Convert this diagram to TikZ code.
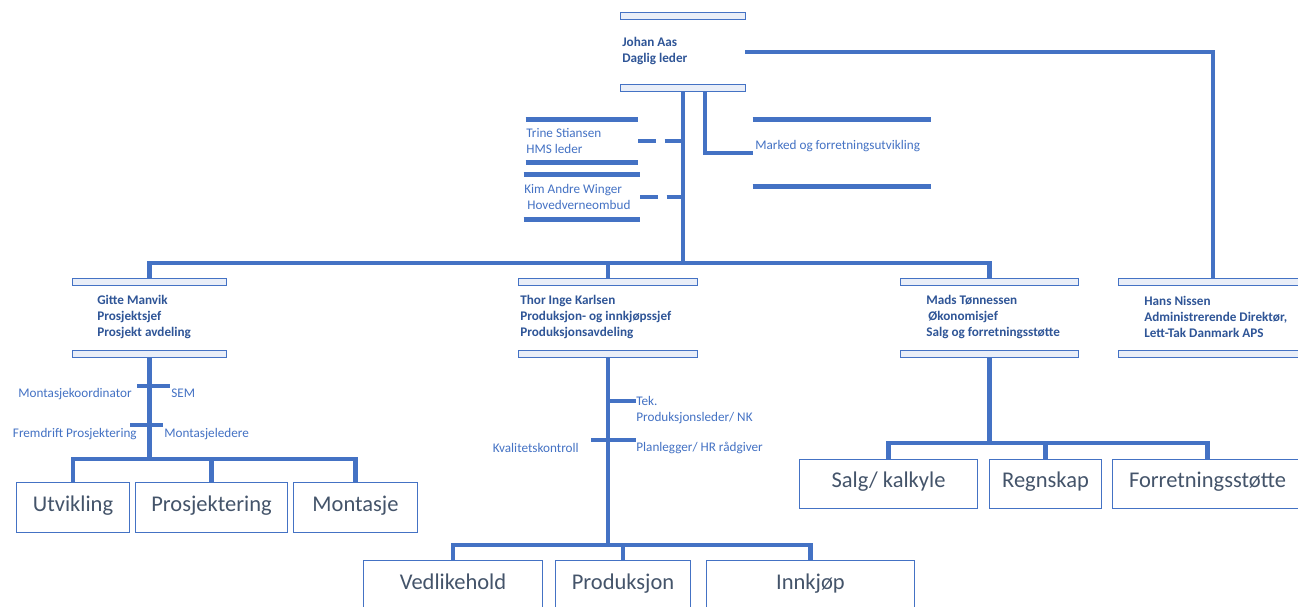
\documentclass[tikz,border=0pt]{standalone}
\usepackage{fontspec}
\setmainfont{Carlito}
\definecolor{lineblue}{HTML}{4472C4}
\definecolor{darkblue}{HTML}{2F5597}
\definecolor{boxgray}{HTML}{44546A}
\definecolor{barfill}{HTML}{E9EEF8}
\tikzset{
    conn/.style={-, line width=2.6pt, draw=lineblue},
    dashconn/.style={conn, dash pattern=on 10pt off 5pt},
    card/.style={rectangle, inner sep=0pt, minimum height=1.56cm},
    cardtext/.style={font=\fontsize{7.5}{9.1}\selectfont\bfseries, text=darkblue, align=left, inner sep=0pt, anchor=west},
    lbl/.style={font=\fontsize{7.5}{9.1}\selectfont, text=lineblue, align=left, inner sep=0pt},
    bracket/.style={draw=lineblue, line width=0.6pt, fill=barfill},
    bar/.style={draw=lineblue, line width=2.8pt},
    unit/.style={rectangle, draw=lineblue, line width=0.6pt, minimum height=1cm, inner sep=0pt, text height=9pt, text depth=5pt, font=\fontsize{12.8}{15}\selectfont, text=boxgray, anchor=north west},
}
\begin{document}
\begin{tikzpicture}[x=0.02cm, y=-0.02cm]
    \path[use as bounding box, fill=white] (0,0) rectangle (1298,606);

    % top
    \node[card, minimum width=2.48cm] (johan) at (683,52) {};
    \node[cardtext] (johantxt) at (622,51) {Johan Aas\\Daglig leder};

    \node[card, minimum width=2.24cm, minimum height=0.96cm] (trine) at (582,141) {};
    \node[lbl, anchor=west] (trinetxt) at (526,141) {Trine Stiansen\\HMS leder};
    \node[card, minimum width=2.32cm, minimum height=1cm] (kim) at (582,197) {};
    \node[lbl, anchor=west] (kimtxt) at (524,197) {Kim Andre Winger\\\hspace{1.7pt}Hovedverneombud};
    \node[card, minimum width=3.56cm, minimum height=1.44cm] (marked) at (842,153) {};
    \node[lbl, anchor=west] (markedtxt) at (755,146) {Marked og forretningsutvikling};

    % middle row
    \node[card, minimum width=3.06cm] (gitte) at (149.5,318) {};
    \node[cardtext] (gittetxt) at (97,317) {Gitte Manvik\\Prosjektsjef\\Prosjekt avdeling};
    \node[card, minimum width=3.56cm] (thor) at (608,318) {};
    \node[cardtext] (thortxt) at (520,317) {Thor Inge Karlsen\\Produksjon- og innkjøpssjef\\Produksjonsavdeling};
    \node[card, minimum width=3.54cm] (mads) at (989.5,318) {};
    \node[cardtext] (madstxt) at (926,317) {Mads Tønnessen\\\hspace{1.2pt}Økonomisjef\\Salg og forretningsstøtte};
    \node[card, minimum width=3.76cm] (hans) at (1213,318) {};
    \node[cardtext] (hanstxt) at (1144,317) {Hans Nissen\\Administrerende Direktør,\\Lett-Tak Danmark APS};

    \foreach \c in {johan,gitte,thor,mads,hans}{
        \draw[bracket] (\c.north west) rectangle ([yshift=-0.14cm]\c.north east);
        \draw[bracket] (\c.south west) rectangle ([yshift=0.14cm]\c.south east);
    }
    \foreach \c in {trine,kim,marked}{
        \draw[bar] ([yshift=-1.4pt]\c.north west) -- ([yshift=-1.4pt]\c.north east);
        \draw[bar] ([yshift=1.4pt]\c.south west) -- ([yshift=1.4pt]\c.south east);
    }

    \coordinate (bus) at (683,263);
    \draw[conn] (johan.south) -- (bus);
    \draw[conn] (gitte.north) -- (gitte.north |- bus) -- (mads.north |- bus) -- (mads.north);
    \draw[conn] (thor.north) -- (thor.north |- bus);
    \draw[dashconn] (trine.east) -- (trine.east -| bus);
    \draw[dashconn] (kim.east) -- (kim.east -| bus);
    \draw[conn] ([xshift=0.44cm]johan.south) |- (marked.west);
    \draw[conn] (johan.east) -| (hans.north);

    % prosjekt
    \node[lbl, anchor=east] (mkoord) at (132,394) {Montasjekoordinator};
    \node[lbl, anchor=west] (sem) at (171,393) {SEM};
    \node[lbl, anchor=east] (fremdrift) at (137,434) {Fremdrift Prosjektering};
    \node[lbl, anchor=west] (mledere) at (164,434) {Montasjeledere};
    \node[unit, minimum width=2.26cm] (utv) at (16,482) {Utvikling};
    \node[unit, minimum width=3.04cm] (prosj) at (135,482) {Prosjektering};
    \node[unit, minimum width=2.48cm] (mont) at (293,482) {Montasje};
    \coordinate (gbus) at (148,459);
    \draw[conn] (gitte.south) -- (gitte.south |- gbus);
    \draw[conn] (137,386) -- (170,386);
    \draw[conn] (130,425) -- (163,425);
    \draw[conn] (utv.north) -- (utv.north |- gbus) -- (mont.north |- gbus) -- (mont.north);
    \draw[conn] (prosj.north) -- (prosj.north |- gbus);

    % produksjon
    \node[lbl, anchor=north west] (tek) at (636,396) {Tek.\\Produksjonsleder/ NK};
    \node[lbl, anchor=east] (kval) at (579,448) {Kvalitetskontroll};
    \node[lbl, anchor=west] (plan) at (636,448) {Planlegger/ HR rådgiver};
    \node[unit, minimum width=3.58cm] (vedl) at (363,560) {Vedlikehold};
    \node[unit, minimum width=2.7cm] (prod) at (555,560) {Produksjon};
    \node[unit, minimum width=4.16cm] (innk) at (706,560) {Innkjøp};
    \coordinate (tbus) at (608,545);
    \draw[conn] (thor.south) -- (thor.south |- tbus);
    \draw[conn] (608,401) -- (636,401);
    \draw[conn] (591,440) -- (636,440);
    \draw[conn] (vedl.north) -- (vedl.north |- tbus) -- (innk.north |- tbus) -- (innk.north);
    \draw[conn] (prod.north) -- (prod.north |- tbus);

    % okonomi
    \node[unit, minimum width=3.56cm, minimum height=0.98cm] (salg) at (799,459) {Salg/ kalkyle};
    \node[unit, minimum width=2.24cm, minimum height=0.98cm] (regn) at (989,459) {Regnskap};
    \node[unit, minimum width=3.8cm, minimum height=0.98cm] (forr) at (1112,459) {Forretningsstøtte};
    \coordinate (mbus) at (990,443);
    \draw[conn] (mads.south) -- (mads.south |- mbus);
    \draw[conn] (salg.north) -- (salg.north |- mbus) -- (forr.north |- mbus) -- (forr.north);
    \draw[conn] (regn.north) -- (regn.north |- mbus);
\end{tikzpicture}
\end{document}
